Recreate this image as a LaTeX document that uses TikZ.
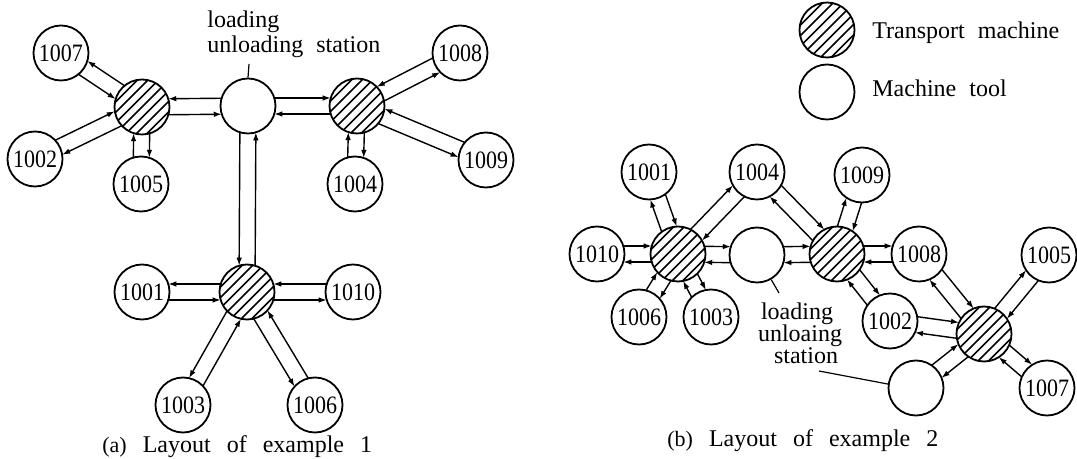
\documentclass[tikz,border=0pt]{standalone}
\usepackage{fontspec}
\setmainfont{Liberation Serif}
\newfontfamily\numfont[FakeStretch=0.88]{Liberation Serif}
\usetikzlibrary{calc,arrows.meta}

% word gaps used in the widely spaced labels and captions
\newcommand\gap{\hspace{6.5pt}}
\newcommand\capgap{\hspace{8pt}}
% distance from a circle centre to where a lane meets its outline, and lane offset
\newcommand\lsh{13.16pt}
\newcommand\lof{4pt}

% two one-way lanes between circles #1 and #2, each kept on the right of its travel
\newcommand\lanesR[2]{%
  \draw[lane] ($(#1)!\lsh!(#2)!\lof!-90:(#2)$) -- ($(#2)!\lsh!(#1)!\lof!90:(#1)$);
  \draw[lane] ($(#2)!\lsh!(#1)!\lof!-90:(#1)$) -- ($(#1)!\lsh!(#2)!\lof!90:(#2)$);}
% the same, each lane kept on the left of its travel
\newcommand\lanesL[2]{%
  \draw[lane] ($(#1)!\lsh!(#2)!\lof!90:(#2)$) -- ($(#2)!\lsh!(#1)!\lof!-90:(#1)$);
  \draw[lane] ($(#2)!\lsh!(#1)!\lof!90:(#1)$) -- ($(#1)!\lsh!(#2)!\lof!-90:(#2)$);}

\begin{document}
\begin{tikzpicture}[x=0.5pt,y=-0.5pt,
  mtool/.style={circle, draw, fill=white, line width=0.9pt, minimum size=27.5pt,
    inner sep=0pt, font=\numfont\fontsize{12.5}{13}\selectfont},
  tmach/.style={mtool, path picture={
    \foreach \k in {-3,...,3}{
      \draw[line width=0.8pt]
        ($(path picture bounding box.center)+({(\k)*2.62pt-16pt},{-16pt-(\k)*2.62pt})$)
        -- ++(32pt,32pt);}}},
  lane/.style={line width=0.7pt, -{Latex[length=4pt,width=2.8pt]}},
  lbl/.style={font=\fontsize{12}{12.5}\selectfont, inner sep=0pt},
  leader/.style={line width=0.6pt}]
\useasboundingbox (0,0) rectangle (1077,459);

% ---------- layout of example 1 ----------
\node[mtool] (a1007) at (61,53) {1007};
\node[tmach] (ta) at (142,107) {};
\node[mtool] (a1002) at (35,159) {1002};
\node[mtool] (a1005) at (141,184) {1005};
\node[mtool] (sa) at (248,106) {};
\node[tmach] (tb) at (357,106) {};
\node[mtool] (a1008) at (460,53) {1008};
\node[mtool] (a1009) at (486,160) {1009};
\node[mtool] (a1004) at (355,184) {1004};
\node[tmach] (tc) at (247,292) {};
\node[mtool] (a1001) at (142,292) {1001};
\node[mtool] (a1010) at (353,292) {1010};
\node[mtool] (a1003) at (183,405) {1003};
\node[mtool] (a1006) at (315,405) {1006};

\lanesR{ta}{sa}
\lanesR{ta}{a1007}
\lanesL{ta}{a1002}
\lanesL{ta}{a1005}
\lanesL{sa}{tb}
\lanesR{tb}{a1008}
\lanesR{tb}{a1009}
\lanesL{tb}{a1004}
\lanesR{sa}{tc}
\lanesR{tc}{a1001}
\lanesR{tc}{a1010}
\lanesR{tc}{a1003}
\lanesR{tc}{a1006}

\node[lbl, anchor=base west] (la1) at (207,28) {loading};
\node[lbl, anchor=base west] (la2) at (207,53) {unloading\gap station};
\coordinate (lapt) at (249,64);
\draw[leader] (sa.north) -- (lapt);

\node[lbl, anchor=base west] (capa) at (102,453)
  {{\fontsize{11}{12}\selectfont(a)}\capgap Layout\capgap of\capgap example\capgap 1};

% ---------- legend ----------
\node[tmach] (legt) at (827,30) {};
\node[mtool] (legm) at (827,92) {};
\node[lbl, anchor=base west] (legtl) at (872,39) {Transport\gap machine};
\node[lbl, anchor=base west] (legml) at (872,97) {Machine\gap tool};

% ---------- layout of example 2 ----------
\node[mtool] (b1001) at (649,172) {1001};
\node[mtool] (b1004) at (757,172) {1004};
\node[mtool] (b1009) at (862,175) {1009};
\node[mtool] (b1010) at (597,254) {1010};
\node[tmach] (td) at (678,254) {};
\node[mtool] (sb) at (757,255) {};
\node[tmach] (te) at (837,254) {};
\node[mtool] (b1008) at (919,254) {1008};
\node[mtool] (b1005) at (1049,255) {1005};
\node[mtool] (b1006) at (639,317) {1006};
\node[mtool] (b1003) at (711,317) {1003};
\node[mtool] (b1002) at (890,321) {1002};
\node[tmach] (tf) at (984,334) {};
\node[mtool] (sc) at (916,388) {};
\node[mtool] (b1007) at (1047,388) {1007};

\lanesL{td}{b1001}
\lanesL{td}{b1010}
\lanesL{td}{b1004}
\lanesL{td}{sb}
\lanesL{td}{b1006}
\lanesL{td}{b1003}
\lanesL{sb}{te}
\lanesL{b1004}{te}
\lanesL{te}{b1009}
\lanesL{te}{b1008}
\lanesL{te}{b1002}
\lanesL{b1008}{tf}
\lanesL{b1002}{tf}
\lanesL{tf}{b1005}
\lanesL{tf}{b1007}
\lanesL{tf}{sc}

\node[lbl, anchor=base] (lb1) at (797,320) {loading};
\node[lbl, anchor=base] (lb2) at (800,342) {unloaing};
\node[lbl, anchor=base] (lb3) at (806,364) {station};
\coordinate (lbpt) at (779,293);
\draw[leader] (sb.-60) -- (lbpt);
\coordinate (lcpt) at (819,371);
\draw[leader] (lcpt) -- (sc.172);

\node[lbl, anchor=base west] (capb) at (667,447)
  {{\fontsize{11}{12}\selectfont(b)}\capgap Layout\capgap of\capgap example\capgap 2};
\end{tikzpicture}
\end{document}
